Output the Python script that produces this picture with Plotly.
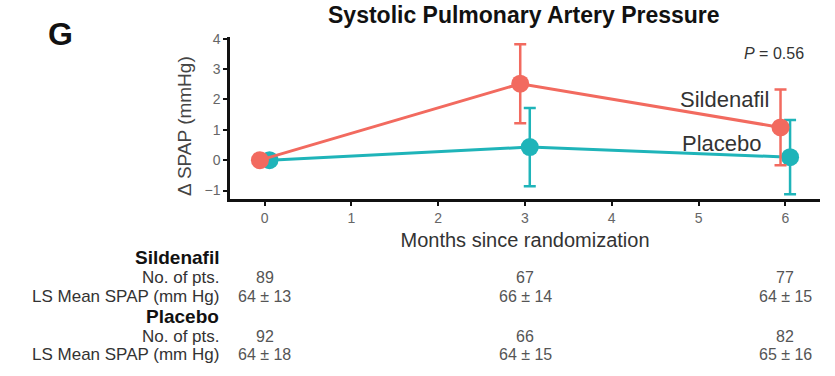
import plotly.graph_objects as go

# Data
months = [0, 3, 6]
tick_vals = [0, 1, 2, 3, 4, 5, 6]
y_ticks = [-1, 0, 1, 2, 3, 4]

sild_mean = [0.0, 2.52, 1.08]
sild_err = [0.0, 1.30, 1.25]
plac_mean = [0.0, 0.43, 0.10]
plac_err = [0.0, 1.29, 1.22]

sild_n = ["89", "67", "77"]
sild_ls = ["64 ± 13", "66 ± 14", "64 ± 15"]
plac_n = ["92", "66", "82"]
plac_ls = ["64 ± 18", "64 ± 15", "65 ± 16"]

RED = "#F26A5F"
TEAL = "#1FB4B9"
FONT = "Liberation Sans, Arial, Helvetica, sans-serif"

W, H = 835, 376
ML, MR, MT, MB = 230, 15, 37, 177
plot_h = H - MT - MB


def py(pix):
    """Convert a pixel row (from top) to paper y."""
    return (H - MB - pix) / plot_h


def px(pix):
    """Convert a pixel column to paper x."""
    return (pix - ML) / (W - ML - MR)


dodge = 0.055
fig = go.Figure()

fig.add_trace(go.Scatter(
    x=[m + dodge for m in months], y=plac_mean,
    mode="lines+markers",
    line=dict(color=TEAL, width=3),
    marker=dict(color=TEAL, size=18),
    error_y=dict(type="data", array=plac_err, color=TEAL, thickness=2.5, width=6),
    name="Placebo", showlegend=False,
))
fig.add_trace(go.Scatter(
    x=[m - dodge for m in months], y=sild_mean,
    mode="lines+markers",
    line=dict(color=RED, width=3),
    marker=dict(color=RED, size=18),
    error_y=dict(type="data", array=sild_err, color=RED, thickness=2.5, width=6),
    name="Sildenafil", showlegend=False,
))

fig.update_layout(
    width=W, height=H,
    margin=dict(l=ML, r=MR, t=MT, b=MB),
    paper_bgcolor="white", plot_bgcolor="white",
    font=dict(family=FONT, color="#333"),
    xaxis=dict(
        range=[-0.4, 6.4], tickvals=tick_vals,
        showgrid=False, zeroline=False,
        showline=True, linecolor="#111", linewidth=2.5,
        ticks="outside", ticklen=4, tickwidth=2, tickcolor="#111",
        tickfont=dict(size=14, color="#666"),
        title=dict(text="Months since randomization", font=dict(size=20, color="#333"), standoff=9),
    ),
    yaxis=dict(
        range=[-1.28, 4.06], tickvals=y_ticks,
        ticktext=["\u22121", "0", "1", "2", "3", "4"],
        showgrid=False, zeroline=False,
        showline=True, linecolor="#111", linewidth=2.5,
        ticks="outside", ticklen=4, tickwidth=2, tickcolor="#111",
        tickfont=dict(size=14, color="#666"),
    ),
)

ann = []
# Panel letter and title
ann.append(dict(text="<b>G</b>", x=px(60), y=py(34), xref="paper", yref="paper",
                xanchor="center", yanchor="middle",
                showarrow=False, font=dict(size=32, color="#111")))
ann.append(dict(text="<b>Systolic Pulmonary Artery Pressure</b>", x=px(524), y=py(15),
                xref="paper", yref="paper", xanchor="center", yanchor="middle",
                showarrow=False, font=dict(size=23, color="#111")))
# Y-axis title, rotated
ann.append(dict(text="\u0394 SPAP (mmHg)", x=px(184), y=py(126), xref="paper", yref="paper",
                xanchor="center", yanchor="middle",
                textangle=-90, showarrow=False, font=dict(size=19, color="#444")))
# P value
ann.append(dict(text="<i>P</i> = 0.56", x=6.24, y=3.5, xref="x", yref="y",
                xanchor="right", showarrow=False, font=dict(size=16, color="#333")))
# Series labels inside plot
ann.append(dict(text="Sildenafil", x=5.84, y=2.0, xref="x", yref="y",
                xanchor="right", showarrow=False, font=dict(size=22, color="#333")))
ann.append(dict(text="Placebo", x=5.75, y=0.56, xref="x", yref="y",
                xanchor="right", showarrow=False, font=dict(size=22, color="#333")))

# Table below the axis
rows = [
    ("<b>Sildenafil</b>", 257, 19, "#111", None),
    ("No. of pts.", 277, 17, "#333", sild_n),
    ("LS Mean SPAP (mm Hg)", 296, 17, "#333", sild_ls),
    ("<b>Placebo</b>", 316, 19, "#111", None),
    ("No. of pts.", 336, 17, "#333", plac_n),
    ("LS Mean SPAP (mm Hg)", 354, 17, "#333", plac_ls),
]
for label, row_y, size, col, values in rows:
    ann.append(dict(text=label, x=px(221), y=py(row_y), xref="paper", yref="paper",
                    xanchor="right", yanchor="middle", showarrow=False,
                    font=dict(size=size, color=col)))
    if values:
        for m, v in zip(months, values):
            ann.append(dict(text=v, x=m, y=py(row_y), xref="x", yref="paper",
                            xanchor="center", yanchor="middle", showarrow=False,
                            font=dict(size=16, color="#555")))

fig.update_layout(annotations=ann)
fig.write_html("out.html")
